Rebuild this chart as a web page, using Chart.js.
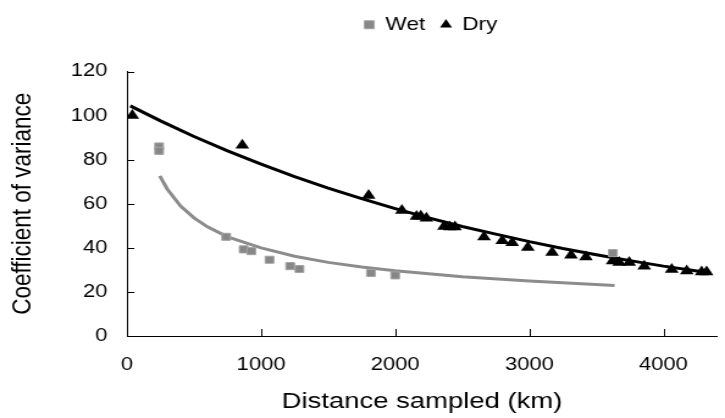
<!DOCTYPE html>
<html>
<head>
<meta charset="utf-8">
<script src="https://cdn.jsdelivr.net/npm/chart.js@4/dist/chart.umd.min.js"></script>
<style>
  html, body { margin: 0; padding: 0; background: #ffffff; overflow: hidden; }
  #c { display: block; }
</style>
</head>
<body>
<!-- the reference chart is horizontally stretched (~1.22x), so the canvas is drawn narrower and shown at 725px -->
<canvas id="c" width="594" height="418" style="width:725px;height:418px;"></canvas>
<script>
// ---- Data ----
const wetDistance = [240, 240, 740, 870, 927, 1063, 1217, 1286, 1819, 2000, 3623];
const wetCV       = [86, 84, 45, 39.3, 38.5, 34.6, 31.7, 30.4, 28.6, 27.5, 37.6];

const dryDistance = [40, 860, 1802, 2050, 2159, 2191, 2233, 2364, 2407, 2446, 2662, 2798, 2872, 2989, 3170, 3311, 3422, 3621, 3670, 3745, 3857, 4062, 4174, 4285, 4322];
const dryCV       = [100, 86.5, 63.7, 56.9, 54.2, 54.3, 53.4, 49.7, 49.4, 49.4, 44.9, 43.2, 42.3, 40.2, 37.9, 36.6, 35.8, 34.0, 33.3, 33.3, 31.7, 30.2, 29.5, 29.0, 29.0];

// trend lines
const wetFitDistance = [245, 300, 400, 500, 600, 750, 1000, 1250, 1500, 1750, 2000, 2500, 3000, 3636];
const wetFitCV       = [72.7, 66.7, 59.0, 53.6, 49.5, 45.0, 40.0, 36.2, 33.4, 31.3, 29.6, 26.9, 24.9, 22.9];
const dryFitDistance = [25, 250, 500, 750, 1000, 1250, 1500, 1750, 2000, 2250, 2500, 2750, 3000, 3250, 3500, 3750, 4000, 4250, 4347];
const dryFitCV       = [104.4, 97.6, 90.5, 84.0, 78.0, 72.3, 67.1, 62.3, 57.8, 53.6, 49.7, 46.2, 42.8, 39.7, 36.9, 34.2, 31.7, 29.5, 28.6];

const seriesNames = ['Wet', 'Dry'];
const xTickLabels = [0, 1000, 2000, 3000, 4000];
const xTickMarks = [1000, 2000, 3000, 4000];
const yTickValues = [0, 20, 40, 60, 80, 100, 120];
const xTitle = 'Distance sampled (km)';
const yTitle = 'Coefficient of variance';

const pts = (xs, ys) => xs.map((x, i) => ({ x: x, y: ys[i] }));

const FONT = "'Liberation Sans', Arial, sans-serif";

const innerTicks = {
  id: 'innerTicks',
  afterDraw(chart) {
    const ctx = chart.ctx;
    const xs = chart.scales.x, ys = chart.scales.y;
    const area = chart.chartArea;
    ctx.save();
    ctx.strokeStyle = '#000';
    ctx.lineWidth = 1;
    ctx.beginPath();
    xTickMarks.forEach(v => {
      const px = Math.round(xs.getPixelForValue(v)) + 0.5;
      ctx.moveTo(px, area.bottom);
      ctx.lineTo(px, area.bottom - 7);
    });
    yTickValues.forEach(v => {
      const py = Math.round(ys.getPixelForValue(v)) + 0.5;
      ctx.moveTo(area.left, py);
      ctx.lineTo(area.left + 6, py);
    });
    ctx.stroke();
    ctx.restore();
  }
};

const moveLegend = {
  id: 'moveLegend',
  afterLayout(chart) {
    const lg = chart.legend;
    if (!lg) return;
    const w = lg.right - lg.left, h = lg.bottom - lg.top;
    lg.left = 58.5; lg.right = 58.5 + w;
    lg.top = 2.5; lg.bottom = 2.5 + h;
  }
};

new Chart(document.getElementById('c'), {
  type: 'scatter',
  data: {
    datasets: [
      {
        label: seriesNames[0],
        data: pts(wetDistance, wetCV),
        pointStyle: 'rect',
        pointRadius: 5,
        pointHoverRadius: 5,
        backgroundColor: '#878787',
        borderColor: '#a4a4a4',
        borderWidth: 1
      },
      {
        label: seriesNames[1],
        data: pts(dryDistance, dryCV),
        pointStyle: 'triangle',
        pointRadius: 6.5,
        pointHoverRadius: 6.5,
        backgroundColor: '#000000',
        borderColor: '#000000',
        borderWidth: 0
      },
      {
        label: 'Wet fit',
        data: pts(wetFitDistance, wetFitCV),
        showLine: true,
        pointRadius: 0,
        borderColor: '#8c8c8c',
        borderWidth: 3,
        tension: 0
      },
      {
        label: 'Dry fit',
        data: pts(dryFitDistance, dryFitCV),
        showLine: true,
        pointRadius: 0,
        borderColor: '#000000',
        borderWidth: 3,
        tension: 0
      }
    ]
  },
  options: {
    responsive: false,
    animation: false,
    devicePixelRatio: 1,
    layout: { padding: { left: 0, right: 5, top: 30, bottom: 0 } },
    plugins: {
      tooltip: { enabled: false },
      legend: {
        position: 'top',
        labels: {
          filter: (item) => item.datasetIndex < 2,
          usePointStyle: true,
          boxWidth: 8,
          boxHeight: 8,
          padding: 13,
          color: '#000',
          font: { family: FONT, size: 18.5 }
        }
      }
    },
    scales: {
      x: {
        type: 'linear',
        min: 0,
        max: 4400,
        afterBuildTicks: (s) => { s.ticks = xTickLabels.map(v => ({ value: v })); },
        afterFit: (s) => { s.height = 82; },
        grid: { display: false, drawTicks: true, tickLength: 18 },
        border: { display: true, color: '#000', width: 1 },
        ticks: {
          padding: 0, color: '#000', autoSkip: false, maxRotation: 0, minRotation: 0,
          font: { family: FONT, size: 18 },
          callback: (v) => String(v)
        },
        title: { display: true, text: xTitle, color: '#000', font: { family: FONT, size: 22.5 }, padding: { top: 0, bottom: 3 } }
      },
      y: {
        type: 'linear',
        min: 0,
        max: 120,
        afterFit: (s) => { s.width = 104; },
        grid: { display: false, drawTicks: false },
        border: { display: true, color: '#000', width: 1 },
        ticks: { stepSize: 20, padding: 16, color: '#000', font: { family: FONT, size: 18 } },
        title: { display: true, text: yTitle, color: '#000', font: { family: FONT, size: 22.5 }, padding: { top: 5, bottom: 0 } }
      }
    }
  },
  plugins: [innerTicks, moveLegend]
});
</script>
</body>
</html>
